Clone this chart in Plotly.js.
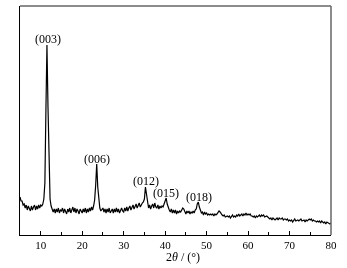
<!DOCTYPE html>
<html>
<head>
<meta charset="utf-8">
<script src="https://cdn.plot.ly/plotly-3.0.1.min.js"></script>
<style>
  html, body { margin: 0; padding: 0; background: #fff; }
  #xrd { width: 347px; height: 268px; }
  #xrd .main-svg { will-change: transform; }
</style>
</head>
<body>
<div id="xrd"></div>
<script>
// XRD pattern, intensity (a.u.) sampled every 0.25 deg from 2theta = 5
var start2theta = 5;
var step2theta = 0.25;
var intensity = [
  38,34,34,30,31,27,30,25,29,26,24,29,25,28,30,25,29,26,30,27,
  30,29,31,36,52,125,190,128,58,36,29,26,23,26,22,26,23,27,22,25,
  24,27,22,26,24,21,26,23,27,22,25,28,23,27,22,26,24,21,26,23,
  22,26,23,27,22,26,23,27,24,28,25,29,35,50,71,48,33,27,24,25,
  27,23,26,22,26,23,27,22,24,26,22,26,23,27,23,26,22,24,27,24,
  23,27,24,28,24,27,29,25,28,30,26,29,31,27,30,32,28,31,32,33,
  36,48,40,31,27,30,26,29,31,27,32,28,27,30,26,29,27,29,28,31,
  35,37,31,27,25,23,26,22,25,22,25,21,24,22,24,23,26,27,26,24,
  21,24,22,24,21,23,22,24,22,25,26,31,33,28,24,22,23,20,23,21,
  22,20,21,20,21,20,21,19,21,20,21,22,24,23,21,20,19,20,18,19,
  19,18,19,17,19,20,18,19,18,20,19,21,19,20,21,19,21,20,22,20,
  21,20,21,19,19,18,19,17,19,18,19,20,18,20,19,20,18,19,19,18,
  17,16,17,15,17,16,15,16,17,15,17,16,16,17,15,16,16,15,16,14,
  15,14,15,13,15,16,14,15,15,14,15,16,14,15,15,13,15,14,15,16,
  15,16,14,15,14,14,13,14,13,14,12,14,13,12,13,11,13,12,12,11,
  12
];

// reflection labels
var hklText = ['(003)', '(006)', '(012)', '(015)', '(018)'];
var hklX = [11.7, 23.5, 35.4, 40.1, 48.2];
var hklY = [196, 76, 54, 42, 38];

var serif = 'Liberation Serif, Times New Roman, serif';

var trace = {
  y: intensity,
  x0: start2theta,
  dx: step2theta,
  type: 'scatter',
  mode: 'lines',
  line: { color: '#000', width: 1.2 },
  hoverinfo: 'none'
};

var annotations = hklText.map(function (t, i) {
  return {
    x: hklX[i], y: hklY[i], text: t,
    showarrow: false, xanchor: 'center', yanchor: 'middle',
    font: { family: serif, size: 12, color: '#000' }
  };
});

// x-axis title, placed slightly right of centre as in the original
annotations.push({
  xref: 'paper', yref: 'paper', x: 0.525, y: -0.096,
  text: '2<i>θ</i> / (°)', showarrow: false,
  xanchor: 'center', yanchor: 'middle',
  font: { family: serif, size: 12, color: '#000' }
});

var layout = {
  width: 347,
  height: 268,
  margin: { l: 20, r: 16, t: 6, b: 33 },
  paper_bgcolor: '#fff',
  plot_bgcolor: '#fff',
  showlegend: false,
  font: { family: serif, color: '#000' },
  xaxis: {
    range: [5, 80],
    dtick: 10,
    tick0: 0,
    ticks: 'inside',
    ticklen: 4,
    tickwidth: 1,
    tickcolor: '#000',
    minor: { dtick: 5, ticks: 'inside', ticklen: 3, tickcolor: '#000' },
    showgrid: false,
    zeroline: false,
    showline: true,
    linecolor: '#000',
    linewidth: 1,
    tickfont: { family: serif, size: 11, color: '#000' }
  },
  yaxis: {
    range: [0, 229],
    showticklabels: false,
    ticks: '',
    showgrid: false,
    zeroline: false,
    showline: true,
    linecolor: '#000',
    linewidth: 1
  },
  shapes: [
    { type: 'line', xref: 'paper', yref: 'paper', x0: 0, x1: 1, y0: 1, y1: 1, line: { color: '#666', width: 1.5 } },
    { type: 'line', xref: 'paper', yref: 'paper', x0: 1, x1: 1, y0: 0, y1: 1, line: { color: '#666', width: 1.5 } }
  ],
  annotations: annotations
};

Plotly.newPlot('xrd', [trace], layout, { displayModeBar: false, staticPlot: true });
</script>
</body>
</html>
